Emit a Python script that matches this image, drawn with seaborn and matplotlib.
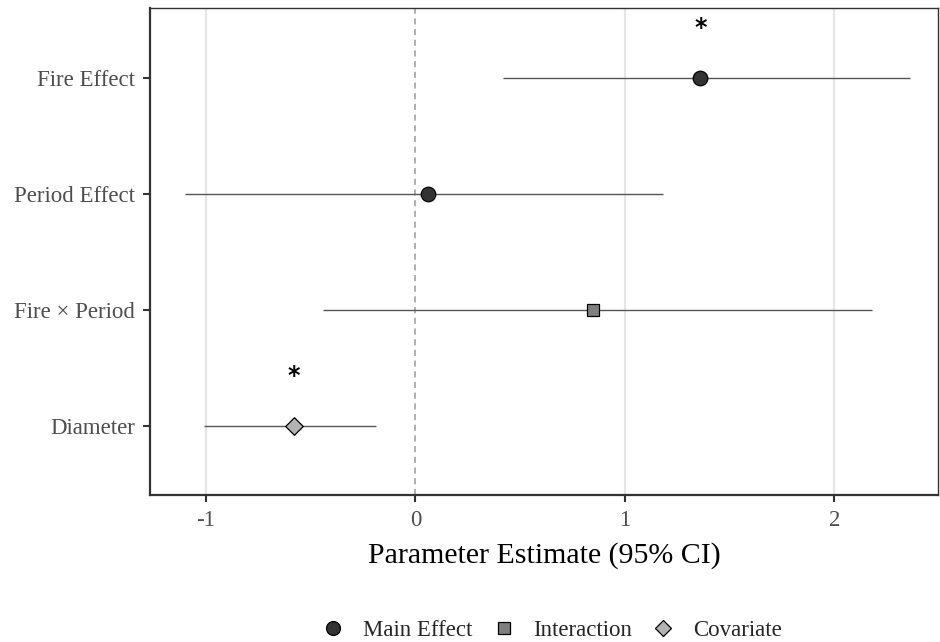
import matplotlib
matplotlib.use("Agg")
import matplotlib.pyplot as plt
from matplotlib.lines import Line2D
import seaborn as sns
import pandas as pd

terms = ["Fire Effect", "Period Effect", "Fire \u00d7 Period", "Diameter"]
estimates = [1.36, 0.06, 0.85, -0.58]
ci_low = [0.42, -1.10, -0.44, -1.01]
ci_high = [2.36, 1.18, 2.18, -0.19]
types = ["Main Effect", "Main Effect", "Interaction", "Covariate"]
significant = [True, False, False, True]
x_ticks = [-1, 0, 1, 2]

df = pd.DataFrame({"term": terms, "estimate": estimates, "low": ci_low,
                   "high": ci_high, "type": types, "sig": significant})

sns.set_theme(style="white")
plt.rcParams["font.family"] = ["Liberation Serif", "DejaVu Serif"]

palette = {"Main Effect": "#333333", "Interaction": "#7f7f7f", "Covariate": "#b3b3b3"}
markers = {"Main Effect": "o", "Interaction": "s", "Covariate": "D"}
sizes = {"Main Effect": 110, "Interaction": 85, "Covariate": 80}

fig = plt.figure(figsize=(9.4, 6.42), dpi=100)
ax = fig.add_axes([150 / 940, 1 - 495 / 642, 788 / 940, 487 / 642])

# grid & reference line
for t in x_ticks:
    if t != 0:
        ax.axvline(t, color="#e6e6e6", lw=1.5, zorder=0)
ax.axvline(0, color="#9a9a9a", lw=1.1, ls=(0, (4, 3)), zorder=1)

ax.hlines(y=df["term"], xmin=df["low"], xmax=df["high"], color="#555555", lw=1.0, zorder=2)

for typ in ["Main Effect", "Interaction", "Covariate"]:
    sub = df[df["type"] == typ]
    sns.scatterplot(data=sub, x="estimate", y="term", ax=ax, color=palette[typ],
                    marker=markers[typ], s=sizes[typ], edgecolor="black",
                    linewidth=0.9, zorder=3, legend=False)

ax.set_ylim(3.59, -0.6)
ax.set_xlim(-1.267, 2.495)

for i, row in df.iterrows():
    if row["sig"]:
        ax.text(row["estimate"], i - 0.43, "*", ha="center", va="center",
                fontsize=17, fontweight="bold", color="black",
                family=["DejaVu Sans"])

ax.set_xticks(x_ticks)
ax.set_xticklabels([str(t) for t in x_ticks])
ax.set_yticks(range(len(terms)))
ax.set_yticklabels(terms)
ax.tick_params(axis="both", which="major", length=5, width=1.5, color="#333333",
               labelsize=16.5, labelcolor="#4d4d4d", pad=6, left=True, bottom=True)
ax.set_xlabel("Parameter Estimate (95% CI)", fontsize=21.5, color="black", labelpad=8)
ax.set_ylabel("")

for side in ["left", "bottom"]:
    ax.spines[side].set_linewidth(1.6)
    ax.spines[side].set_color("#333333")
for side in ["top", "right"]:
    ax.spines[side].set_linewidth(1.0)
    ax.spines[side].set_color("#333333")

handles = [Line2D([], [], ls="", marker=markers[t], markerfacecolor=palette[t],
                  markeredgecolor="black", markeredgewidth=0.9,
                  markersize={"Main Effect": 10, "Interaction": 9, "Covariate": 8.5}[t],
                  label=t)
           for t in ["Main Effect", "Interaction", "Covariate"]]
ax.legend(handles=handles, loc="center", bbox_to_anchor=(0.51, -0.278), ncol=3,
          frameon=False, fontsize=16.5, handletextpad=0.8, columnspacing=0.85,
          handlelength=1.0)

fig.savefig("out.png", dpi=100)
